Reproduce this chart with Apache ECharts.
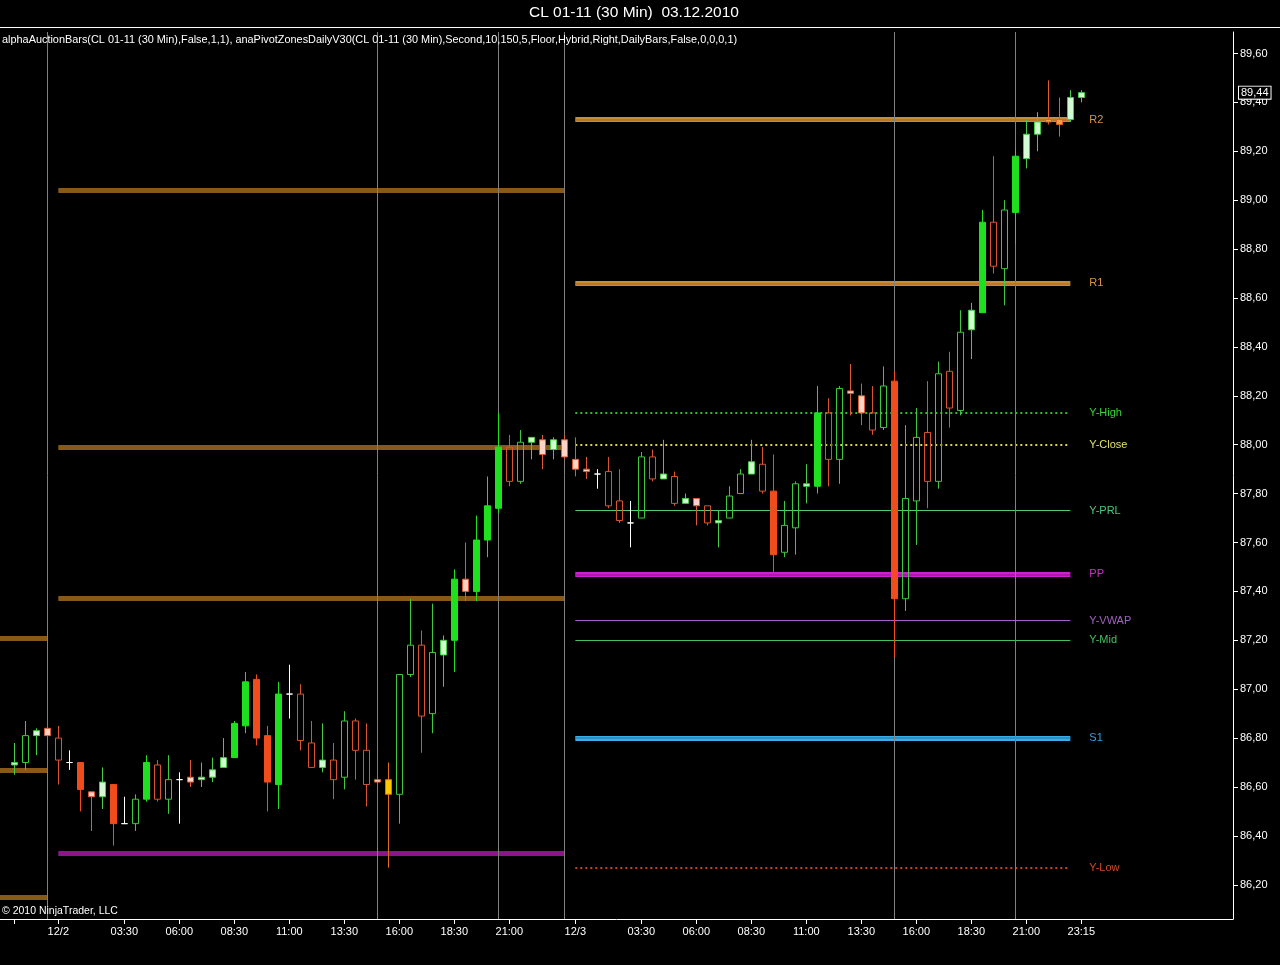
<!DOCTYPE html>
<html><head><meta charset="utf-8">
<script src="https://cdn.jsdelivr.net/npm/echarts@6/dist/echarts.min.js"></script>
<style>html,body{margin:0;padding:0;background:#000;}#chart{width:1280px;height:965px;}</style>
</head><body><div id="chart"></div>
<script>
// ---------- data ----------
const day1Times = ['22:00','22:30','23:00','23:15'];
const sessionTimes = ['00:30','01:00','01:30','02:00','02:30','03:00','03:30','04:00','04:30','05:00','05:30','06:00',
  '06:30','07:00','07:30','08:00','08:30','09:00','09:30','10:00','10:30','11:00','11:30','12:00',
  '12:30','13:00','13:30','14:00','14:30','15:00','15:30','16:00','16:30','17:00','17:30','18:00',
  '18:30','19:00','19:30','20:00','20:30','21:00','21:30','22:00','22:30','23:00','23:15'];

const opens = [86.69,86.70,86.81,86.84,86.80,86.70,86.70,86.58,86.56,86.61,
  86.45,86.45,86.55,86.69,86.55,86.63,86.64,86.63,86.64,86.68,
  86.72,86.85,87.04,86.81,86.61,86.98,86.98,86.78,86.68,86.71,
  86.64,86.87,86.75,86.63,86.63,86.57,87.06,87.18,86.90,87.14,
  87.20,87.45,87.40,87.61,87.74,87.99,87.85,88.01,88.02,87.98,
  88.02,87.94,87.90,87.88,87.89,87.77,87.68,87.70,87.95,87.86,
  87.87,87.76,87.78,87.75,87.68,87.70,87.80,87.88,87.92,87.81,
  87.56,87.66,87.83,87.83,88.13,87.94,88.22,88.20,88.13,88.07,
  88.26,87.37,87.77,88.05,87.85,88.30,88.14,88.47,88.54,88.91,
  88.72,88.95,89.17,89.27,89.33,89.33,89.33,89.42];
const closes = [86.70,86.81,86.83,86.81,86.71,86.70,86.59,86.56,86.62,86.45,
  86.45,86.55,86.70,86.55,86.63,86.63,86.62,86.64,86.67,86.72,
  86.86,87.03,86.80,86.62,86.98,86.98,86.79,86.68,86.71,86.63,
  86.87,86.75,86.61,86.62,86.57,87.06,87.18,86.89,87.15,87.20,
  87.45,87.40,87.61,87.75,87.99,87.85,88.01,88.03,87.96,88.02,
  87.95,87.90,87.89,87.88,87.75,87.69,87.68,87.95,87.86,87.88,
  87.76,87.78,87.75,87.68,87.69,87.79,87.88,87.93,87.81,87.55,
  87.67,87.84,87.84,88.13,87.94,88.23,88.21,88.13,88.06,88.24,
  87.37,87.78,88.03,87.85,88.29,88.15,88.46,88.55,88.91,88.73,
  88.96,89.18,89.27,89.32,89.32,89.31,89.42,89.44];
const highs = [86.78,86.87,86.84,86.89,86.85,86.75,86.70,86.58,86.68,86.61,
  86.56,86.57,86.73,86.71,86.73,86.66,86.71,86.70,86.72,86.80,
  86.87,87.07,87.06,86.85,87.03,87.10,87.02,86.87,86.86,86.78,
  86.91,86.88,86.86,86.87,86.70,87.06,87.37,87.24,87.35,87.22,
  87.49,87.60,87.71,87.87,88.13,88.04,88.06,88.03,88.04,88.03,
  88.04,88.03,87.95,87.90,87.95,87.90,87.77,87.97,87.98,88.02,
  87.89,87.80,87.78,87.75,87.73,87.83,87.90,88.02,87.99,87.96,
  87.77,87.85,87.92,88.24,88.19,88.24,88.33,88.25,88.24,88.32,
  88.30,88.08,88.15,88.26,88.34,88.38,88.55,88.58,88.96,89.18,
  89.00,89.21,89.33,89.36,89.49,89.42,89.45,89.45];
const lows = [86.65,86.67,86.73,86.81,86.61,86.67,86.50,86.42,86.51,86.36,
  86.45,86.42,86.54,86.54,86.49,86.45,86.60,86.60,86.62,86.68,
  86.72,86.82,86.77,86.50,86.51,86.88,86.75,86.68,86.66,86.55,
  86.59,86.63,86.52,86.36,86.27,86.45,87.05,86.74,86.82,87.01,
  87.07,87.36,87.36,87.54,87.72,87.83,87.84,87.94,87.90,87.94,
  87.94,87.87,87.86,87.82,87.74,87.68,87.58,87.70,87.85,87.86,
  87.75,87.76,87.67,87.67,87.58,87.70,87.80,87.88,87.80,87.48,
  87.54,87.55,87.76,87.80,87.83,87.84,88.12,88.08,88.04,88.06,
  87.13,87.32,87.59,87.74,87.82,88.07,88.12,88.35,88.54,88.70,
  88.57,88.82,89.13,89.20,89.31,89.26,89.32,89.40];
// bar kind (alphaAuctionBars colouring): G strong up, g up, p small up, R strong down, r down, s small down, w doji, y/o special
const kinds = ['p','g','p','s','r','w','R','s','p','R','w','g','G','r','g','w','s','p','p','p',
  'G','G','R','R','G','w','r','r','p','r','g','r','r','s','y','g','g','r','g','p',
  'G','s','G','G','G','r','g','p','s','p','s','s','s','w','r','r','w','g','r','p',
  'r','p','s','r','p','g','g','p','r','R','g','g','p','G','r','g','s','s','r','g',
  'R','g','g','r','g','r','g','p','G','r','g','G','p','p','o','o','p','p'];

const levelNames = ['R2','R1','Y-High','Y-Close','Y-PRL','PP','Y-VWAP','Y-Mid','S1','Y-Low'];
const levelValues = [89.33,88.66,88.13,88.00,87.73,87.47,87.28,87.20,86.80,86.27];
const day2Zones = [89.04,87.99,87.37];
const day2PP = 86.33;
const day1Zones = [87.21,86.67,86.15];
const sessionBreaks = ['12/1 23:15','12/2 15:00','12/2 20:30','12/2 23:15','12/3 15:00','12/3 20:30'];
const lastPrice = 89.44;

const xTickCats = ['12/1 22:00','12/2 00:30','12/2 03:30','12/2 06:00','12/2 08:30','12/2 11:00','12/2 13:30','12/2 16:00','12/2 18:30','12/2 21:00',
  '12/3 00:30','12/3 03:30','12/3 06:00','12/3 08:30','12/3 11:00','12/3 13:30','12/3 16:00','12/3 18:30','12/3 21:00','12/3 23:15'];
const xTickText = ['','12/2','03:30','06:00','08:30','11:00','13:30','16:00','18:30','21:00',
  '12/3','03:30','06:00','08:30','11:00','13:30','16:00','18:30','21:00','23:15'];
const yTicks = [86.2,86.4,86.6,86.8,87.0,87.2,87.4,87.6,87.8,88.0,88.2,88.4,88.6,88.8,89.0,89.2,89.4,89.6];

// ---------- styles / layout ----------
const FONT = '"Liberation Sans", Arial, sans-serif';
const X_MIN = -1.3, X_MAX = 110.79;   // visible bar-slot range (empty space right of the last bar)
const kindStyle = {
  G:{fill:'#1fe01f', line:'#1fe01f'},
  g:{fill:'rgba(0,0,0,0)', line:'#3ec83e'},
  p:{fill:'#d4fad4', line:'#46cc46'},
  R:{fill:'#f04c1c', line:'#f04c1c'},
  r:{fill:'rgba(0,0,0,0)', line:'#d9552f'},
  s:{fill:'#ffd4c4', line:'#dd5a38'},
  w:{fill:'#ffffff', line:'#ffffff'},
  y:{fill:'#ffc800', line:'#e0701e'},
  o:{fill:'#f0a040', line:'#e0602c'}
};
const levelStyle = {
  'R2':{color:'#cc8a34', width:5, type:'solid', inner:'#b27028', label:'#d8944a'},
  'R1':{color:'#cc8a34', width:5, type:'solid', inner:'#b27028', label:'#d8944a'},
  'Y-High':{color:'#2fc02f', width:2, type:[2,3], label:'#3ad03a'},
  'Y-Close':{color:'#d8d84a', width:2, type:[2,3], label:'#e0e070'},
  'Y-PRL':{color:'#4ccc78', width:1, type:'solid', label:'#4cc878'},
  'PP':{color:'#d21ed2', width:5, type:'solid', inner:'#a018a0', label:'#d02cd0'},
  'Y-VWAP':{color:'#a85cc8', width:1, type:'solid', label:'#a060c0'},
  'Y-Mid':{color:'#40c060', width:1, type:'solid', label:'#40c060'},
  'S1':{color:'#3aaee6', width:5, type:'solid', inner:'#2a86b8', label:'#3aa0d8'},
  'Y-Low':{color:'#d0401c', width:2, type:[2,3], label:'#d04a28'}
};
const zoneBrown = '#875a17', zonePurple = '#8c158c';

// ---------- build ----------
const barNames = [...day1Times.map(t => '12/1 ' + t),
  ...sessionTimes.map(t => '12/2 ' + t), ...sessionTimes.map(t => '12/3 ' + t)];
const idx = (name) => barNames.indexOf(name);

const candleData = barNames.map((name, i) => {
  const st = kindStyle[kinds[i]];
  return {name: name, value:[i, opens[i], closes[i], lows[i], highs[i]],
    itemStyle:{color:st.fill, color0:st.fill, borderColor:st.line, borderColor0:st.line, borderColorDoji:st.line, borderWidth:1}};
});

function seg(from, to, v, color, width, type, labelText, labelColor) {
  return [{coord:[from, v], lineStyle:{color:color, width:width, type:type, opacity:1},
           label: labelText ? {show:true, position:'end', formatter:labelText, color:labelColor, fontSize:11, fontFamily:FONT, distance:19} : {show:false}},
          {coord:[to, v]}];
}
const pivotLines = [];
day1Zones.forEach(v => pivotLines.push(seg(X_MIN, idx('12/1 23:15'), v, zoneBrown, 5, 'solid')));
day2Zones.forEach(v => pivotLines.push(seg(idx('12/2 00:30'), idx('12/2 23:15'), v, zoneBrown, 5, 'solid')));
pivotLines.push(seg(idx('12/2 00:30'), idx('12/2 23:15'), day2PP, zonePurple, 5, 'solid'));
levelNames.forEach((n, j) => {
  const s = levelStyle[n];
  pivotLines.push(seg(idx('12/3 00:30'), idx('12/3 23:00'), levelValues[j], s.color, s.width, s.type, n, s.label));
  if (s.inner) pivotLines.push(seg(idx('12/3 00:30'), idx('12/3 23:00'), levelValues[j], s.inner, 1.5, 'solid'));
});

const xTickIdx = xTickCats.map(idx);
const tickText = {};
xTickIdx.forEach((k, j) => tickText[k] = xTickText[j]);
const fmtPrice = (v) => v.toFixed(2).replace('.', ',');

const chart = echarts.init(document.getElementById('chart'));
chart.setOption({
  backgroundColor:'#000',
  animation:false,
  title:[
    {text:'CL 01-11 (30 Min)  03.12.2010', left:529, top:5, padding:0,
     textStyle:{color:'#fff', fontSize:15.5, fontWeight:'normal', fontFamily:FONT}},
    {text:'alphaAuctionBars(CL 01-11 (30 Min),False,1,1), anaPivotZonesDailyV30(CL 01-11 (30 Min),Second,10,150,5,Floor,Hybrid,Right,DailyBars,False,0,0,0,1)',
     left:2, top:34, padding:0, textStyle:{color:'#fff', fontSize:10.9, fontWeight:'normal', fontFamily:FONT}},
    {text:'© 2010 NinjaTrader, LLC', left:2, top:906, padding:0,
     textStyle:{color:'#fff', fontSize:10.5, fontWeight:'normal', fontFamily:FONT}}
  ],
  graphic:[{type:'line', shape:{x1:0, y1:27.5, x2:1280, y2:27.5}, style:{stroke:'#ffffff', lineWidth:1}, silent:true}],
  grid:{left:0, right:47, top:32, bottom:46},
  xAxis:{
    type:'value', min:X_MIN, max:X_MAX,
    axisLine:{show:true, onZero:false, lineStyle:{color:'#fff', width:1}},
    axisTick:{show:true, length:5, customValues:xTickIdx, lineStyle:{color:'#fff'}},
    axisLabel:{show:true, customValues:xTickIdx, formatter:(v) => tickText[v] || '',
      color:'#fff', fontSize:11, fontFamily:FONT, margin:7},
    splitLine:{show:false}
  },
  yAxis:{
    type:'value', position:'right', min:86.06, max:89.688,
    axisLine:{show:true, onZero:false, lineStyle:{color:'#fff', width:1}},
    axisTick:{show:true, inside:false, length:5, lineStyle:{color:'#fff'}, customValues:yTicks},
    axisLabel:{color:'#fff', fontSize:11, fontFamily:FONT, margin:7, customValues:yTicks, formatter:fmtPrice},
    splitLine:{show:false}
  },
  series:[
    {type:'line', name:'pivots', data:[], z:1, silent:true,
     markLine:{z:1, silent:true, symbol:['none','none'], animation:false, label:{show:false}, data:pivotLines}},
    {type:'line', name:'sessions', data:[], z:1, silent:true,
     markLine:{z:1, silent:true, symbol:['none','none'], animation:false, label:{show:false},
       lineStyle:{color:'#808080', width:1, type:'solid'},
       data:sessionBreaks.map(c => ({xAxis:idx(c)}))}},
    {type:'candlestick', name:'CL 01-11', data:candleData, z:3, barWidth:6, silent:true},
    {type:'line', name:'last', data:[], z:5, silent:true, clip:false,
     markLine:{z:5, silent:true, symbol:['none','none'], animation:false,
       lineStyle:{color:'rgba(0,0,0,0)', width:0},
       label:{show:true, position:'end', distance:6, formatter:(p) => fmtPrice(p.value), color:'#fff', fontSize:11, fontFamily:FONT,
           backgroundColor:'#000', borderColor:'#fff', borderWidth:1, padding:[1,2,0,2], opacity:1},
       data:[{yAxis:lastPrice}]}}
  ]
});
</script></body></html>
